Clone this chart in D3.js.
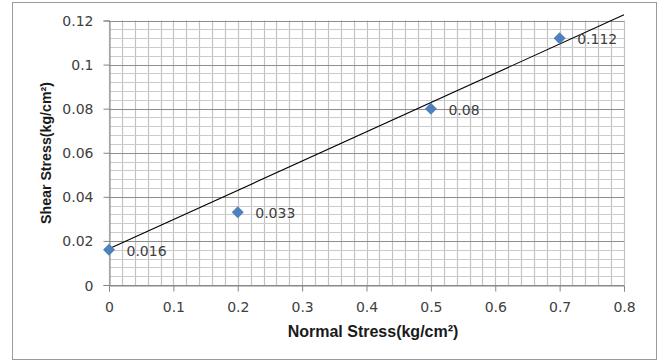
<!DOCTYPE html>
<html>
<head>
<meta charset="utf-8">
<script src="https://cdn.jsdelivr.net/npm/d3@7/dist/d3.min.js"></script>
<style>
  html, body { margin: 0; padding: 0; background: #fff; }
  svg { display: block; }
</style>
</head>
<body>
<svg id="chart" width="662" height="362"></svg>
<script>
// Shear test results: normal stress vs shear stress
const normalStress = [0, 0.2, 0.5, 0.7];
const shearStress = [0.016, 0.033, 0.08, 0.112];
const pointLabels = ["0.016", "0.033", "0.08", "0.112"];

// Failure envelope drawn through the points (start / end values)
const envelopeX = [0, 0.8];
const envelopeY = [0.0164, 0.1226];

const xTicks = [0, 0.1, 0.2, 0.3, 0.4, 0.5, 0.6, 0.7, 0.8];
const xTickLabels = ["0", "0.1", "0.2", "0.3", "0.4", "0.5", "0.6", "0.7", "0.8"];
const yTicks = [0, 0.02, 0.04, 0.06, 0.08, 0.1, 0.12];
const yTickLabels = ["0", "0.02", "0.04", "0.06", "0.08", "0.1", "0.12"];
const xMinorStep = 0.02;
const yMinorStep = 0.004;

const svg = d3.select("#chart");

// chart frame
svg.append("rect")
  .attr("x", 12.5).attr("y", 2.5)
  .attr("width", 644).attr("height", 357)
  .attr("fill", "#fff").attr("stroke", "#9a9a9a").attr("stroke-width", 1);

const x = d3.scaleLinear().domain([0, 0.8]).range([109, 624]);
const y = d3.scaleLinear().domain([0, 0.12]).range([285, 20.5]);

const xMinor = d3.range(0, 0.8 + 1e-9, xMinorStep);
const yMinor = d3.range(0, 0.12 + 1e-9, yMinorStep);

const grid = svg.append("g");
grid.selectAll("line.vx").data(xMinor).join("line")
  .attr("x1", d => Math.round(x(d)) + 0.5).attr("x2", d => Math.round(x(d)) + 0.5)
  .attr("y1", y(0.12)).attr("y2", y(0))
  .attr("stroke", "#c2c2c2").attr("stroke-width", 1.2);
grid.selectAll("line.hy").data(yMinor).join("line")
  .attr("x1", x(0)).attr("x2", x(0.8))
  .attr("y1", d => Math.round(y(d)) + 0.5).attr("y2", d => Math.round(y(d)) + 0.5)
  .attr("stroke", "#cbcbcb").attr("stroke-width", 1.2);
grid.selectAll("line.hmaj").data(yTicks).join("line")
  .attr("x1", x(0)).attr("x2", x(0.8))
  .attr("y1", d => Math.round(y(d)) + 0.5).attr("y2", d => Math.round(y(d)) + 0.5)
  .attr("stroke", "#8e8e8e").attr("stroke-width", 1.2);

// axes
const yAxis = d3.axisLeft(y)
  .tickValues(yTicks)
  .tickFormat((d, i) => yTickLabels[i])
  .tickSize(6).tickPadding(10);
const xAxis = d3.axisBottom(x)
  .tickValues(xTicks)
  .tickFormat((d, i) => xTickLabels[i])
  .tickSize(6).tickPadding(11);

const gy = svg.append("g").attr("transform", `translate(${Math.round(x(0)) + 0.5},0)`).call(yAxis);
const gx = svg.append("g").attr("transform", `translate(0,${Math.round(y(0)) + 0.5})`).call(xAxis);
[gx, gy].forEach(g => {
  g.select(".domain").attr("stroke", "#868686");
  g.selectAll(".tick line").attr("stroke", "#868686");
  g.selectAll(".tick text")
    .attr("fill", "#404040")
    .style("font-family", "'DejaVu Sans', sans-serif")
    .style("font-size", "14px");
});
gy.selectAll(".tick text").attr("dy", "0.36em");

// envelope line
const line = d3.line().x(d => x(d[0])).y(d => y(d[1]));
svg.append("path")
  .datum(envelopeX.map((v, i) => [v, envelopeY[i]]))
  .attr("d", line)
  .attr("fill", "none").attr("stroke", "#000").attr("stroke-width", 1.1);

// data points
const pts = normalStress.map((v, i) => ({ x: v, y: shearStress[i], label: pointLabels[i] }));
svg.append("g").selectAll("path").data(pts).join("path")
  .attr("d", d3.symbol().type(d3.symbolSquare).size(72))
  .attr("transform", d => `translate(${x(d.x)},${y(d.y)}) rotate(45)`)
  .attr("fill", "#4f81bd");

svg.append("g").selectAll("text").data(pts).join("text")
  .attr("x", d => x(d.x) + 17.5)
  .attr("y", d => y(d.y) + 1)
  .attr("dy", "0.36em")
  .attr("fill", "#404040")
  .style("font-family", "'DejaVu Sans', sans-serif")
  .style("font-size", "14px")
  .text(d => d.label);

// axis titles
svg.append("text")
  .attr("x", 373).attr("y", 337)
  .attr("text-anchor", "middle")
  .attr("fill", "#1a1a1a")
  .style("font-family", "'Liberation Sans', Arial, sans-serif")
  .style("font-weight", "bold")
  .style("font-size", "16px")
  .text("Normal Stress(kg/cm²)");

svg.append("text")
  .attr("transform", "translate(51,153) rotate(-90)")
  .attr("text-anchor", "middle")
  .attr("fill", "#1a1a1a")
  .style("font-family", "'Liberation Sans', Arial, sans-serif")
  .style("font-weight", "bold")
  .style("font-size", "14.2px")
  .text("Shear Stress(kg/cm²)");
</script>
</body>
</html>
